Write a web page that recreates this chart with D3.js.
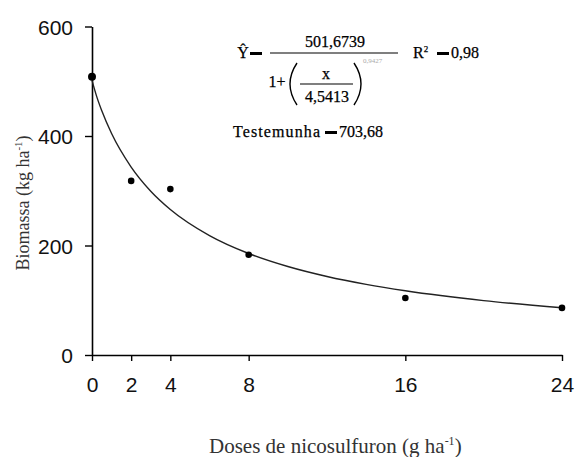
<!DOCTYPE html>
<html>
<head>
<meta charset="utf-8">
<script src="https://cdn.jsdelivr.net/npm/d3@7"></script>
<style>
  body { margin: 0; background: #fff; }
  svg { display: block; }
  .tick text { font-family: "Liberation Sans", Arial, sans-serif; }
</style>
</head>
<body>
<div id="chart"></div>
<script>
var width = 575;
var height = 457;

// observed doses and biomass
var doses = [0, 2, 4, 8, 16, 24];
var biomass = [508, 318, 303, 183, 104, 86];

// fitted curve
var curveX = [0, 0.25, 0.5, 1, 2, 3, 4, 6, 8, 10, 12, 14, 16, 20, 24];
var curveY = [501.7, 471, 446, 404.5, 343.3, 299.2, 265.8, 218.1, 185.4, 161.6, 143.4, 129, 117.3, 99.4, 86.4];

var xTicks = [0, 2, 4, 8, 16, 24];
var yTicks = [0, 200, 400, 600];

var margin = { left: 92, right: 13, top: 26.5, bottom: 102 };

const svg = d3.select("#chart")
  .append("svg")
  .attr("width", width)
  .attr("height", height);

var x = d3.scaleLinear().domain([0, 24]).range([margin.left, width - margin.right]);
var y = d3.scaleLinear().domain([0, 600]).range([height - margin.bottom, margin.top]);

// axes
var xAxis = svg.append("g")
  .attr("transform", "translate(0," + y(0) + ")")
  .call(d3.axisBottom(x).tickValues(xTicks).tickSize(6).tickSizeOuter(0).tickPadding(16));
var yAxis = svg.append("g")
  .attr("transform", "translate(" + x(0) + ",0)")
  .call(d3.axisLeft(y).tickValues(yTicks).tickSize(7).tickSizeOuter(0).tickPadding(12));

[xAxis, yAxis].forEach(function(a) {
  a.select(".domain").attr("stroke", "#000").attr("stroke-width", 1.6);
  a.selectAll(".tick line").attr("stroke", "#000").attr("stroke-width", 1.4);
  a.selectAll(".tick text").attr("fill", "#111").attr("font-size", 21);
});
yAxis.selectAll(".tick text").attr("dy", "0.36em");

// fitted line
const line = d3.line()
  .x(function(d, i) { return x(curveX[i]); })
  .y(function(d) { return y(d); })
  .curve(d3.curveMonotoneX);

svg.append("path")
  .attr("d", line(curveY))
  .attr("fill", "none")
  .attr("stroke", "#222")
  .attr("stroke-width", 1.4);

// points
svg.selectAll("circle.pt")
  .data(biomass)
  .enter()
  .append("circle")
  .attr("class", "pt")
  .attr("cx", function(d, i) { return x(doses[i]); })
  .attr("cy", function(d) { return y(d); })
  .attr("r", function(d, i) { return i === 0 ? 4 : 3.3; })
  .attr("fill", "#000");

// axis titles
var serif = "'Liberation Serif', 'Times New Roman', serif";
svg.append("text")
  .attr("x", 209)
  .attr("y", 453)
  .attr("font-family", serif)
  .attr("font-size", 21)
  .attr("fill", "#333")
  .html("Doses de nicosulfuron (g ha<tspan dy='-8' font-size='12'>-1</tspan><tspan dy='8'>)</tspan>");

svg.append("text")
  .attr("transform", "translate(29,203) rotate(-90)")
  .attr("text-anchor", "middle")
  .attr("font-family", serif)
  .attr("font-size", 18)
  .attr("fill", "#333")
  .html("Biomassa (kg ha<tspan dy='-7' font-size='11'>-1</tspan><tspan dy='7'>)</tspan>");

// equation block
var eq = svg.append("g")
  .attr("font-family", serif)
  .attr("font-size", 16)
  .attr("fill", "#000")
  .attr("stroke", "#000")
  .attr("stroke-width", 0.25);

eq.append("text").attr("x", 243).attr("y", 58).attr("text-anchor", "middle").text("Ŷ");
eq.append("rect").attr("x", 250).attr("y", 52).attr("width", 12).attr("height", 3).attr("stroke", "none");
eq.append("line").attr("x1", 270).attr("x2", 398).attr("y1", 53).attr("y2", 53).attr("stroke", "#000").attr("stroke-width", 1.2);
eq.append("text").attr("x", 335).attr("y", 47).attr("text-anchor", "middle").text("501,6739");
eq.append("text").attr("x", 277).attr("y", 87).attr("text-anchor", "middle").text("1+");
eq.append("path")
  .attr("d", "M297,63 Q283,84 297,105")
  .attr("fill", "none").attr("stroke", "#000").attr("stroke-width", 1.4);
eq.append("path")
  .attr("d", "M354,63 Q368,84 354,105")
  .attr("fill", "none").attr("stroke", "#000").attr("stroke-width", 1.4);
eq.append("text").attr("x", 326).attr("y", 79).attr("text-anchor", "middle").text("x");
eq.append("line").attr("x1", 300).attr("x2", 353).attr("y1", 84).attr("y2", 84).attr("stroke", "#000").attr("stroke-width", 1.1);
eq.append("text").attr("x", 327).attr("y", 102).attr("text-anchor", "middle").text("4,5413");
eq.append("text").attr("x", 363).attr("y", 63).attr("font-size", 7).attr("fill", "#aaa").attr("stroke", "none").text("0,9427");
eq.append("text").attr("x", 413).attr("y", 58).html("R<tspan dy='-6' font-size='9'>2</tspan>");
eq.append("rect").attr("x", 437).attr("y", 52).attr("width", 12).attr("height", 3).attr("stroke", "none");
eq.append("text").attr("x", 451).attr("y", 58).text("0,98");

eq.append("text").attr("x", 233).attr("y", 137).attr("textLength", 87).text("Testemunha");
eq.append("rect").attr("x", 325).attr("y", 131).attr("width", 12).attr("height", 3).attr("stroke", "none");
eq.append("text").attr("x", 339).attr("y", 137).text("703,68");
</script>
</body>
</html>
